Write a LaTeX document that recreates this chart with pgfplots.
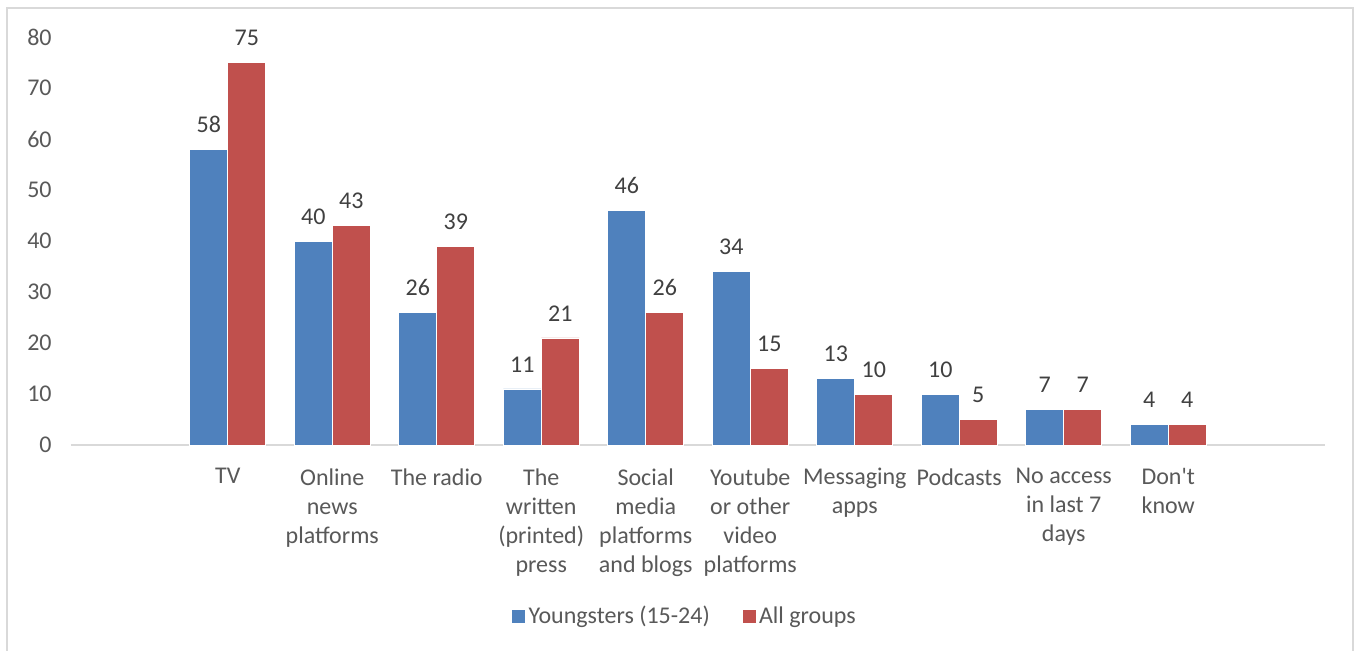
\documentclass[border=0pt]{standalone}
\usepackage{pgfplots}
\pgfplotsset{compat=1.18}
\usepackage{fontspec}
\setmainfont{Carlito}
\definecolor{cblue}{HTML}{4F81BD}
\definecolor{cred}{HTML}{C0504D}
\definecolor{tickgray}{HTML}{595959}
\definecolor{labgray}{HTML}{404040}
\definecolor{framegray}{HTML}{D9D9D9}
\begin{document}
\begin{tikzpicture}
\useasboundingbox (0pt,0pt) rectangle (1017pt,487.5pt);
\fill[white] (0pt,0pt) rectangle (1017pt,487.5pt);
\draw[framegray, line width=1pt] (5.25pt,-10pt) -- (5.25pt,481.5pt) -- (1014.75pt,481.5pt) -- (1014.75pt,-10pt);
\begin{axis}[
  at={(53.25pt,153.75pt)}, anchor=south west,
  scale only axis, width=940.5pt, height=306pt,
  xmin=-1.5, xmax=10.5, ymin=0, ymax=80,
  enlargelimits=false,
  axis x line=bottom, axis y line=left,
  x axis line style={framegray, line width=1.2pt, -},
  y axis line style={draw=none},
  major tick length=0pt,
  ytick={0,10,...,80},
  xtick={0,...,9},
  xticklabels={TV, Online\\news\\platforms, The radio, The\\written\\(printed)\\press, Social\\media\\platforms\\and blogs, Youtube\\or other\\video\\platforms, Messaging\\apps, Podcasts, No access\\in last 7\\days, Don\textquotesingle t\\know},
  /pgf/number format/assume math mode=true,
  yticklabel style={font=\fontsize{18}{21.75}\selectfont, text=tickgray, xshift=-11pt},
  xticklabel style={font=\fontsize{18}{21.75}\selectfont, text=tickgray, align=center, yshift=-14pt},
  ybar=0pt, bar width=28.5pt,
  nodes near coords,
  every node near coord/.append style={font=\fontsize{18}{21.75}\selectfont, text=labgray, yshift=9pt},
  legend style={at={(0.4896,-0.419)}, anchor=center, draw=none, legend columns=2,
    font=\fontsize{18}{21.75}\selectfont, text=tickgray,
    /tikz/every even column/.append style={column sep=22pt}},
  legend image code/.code={\fill[#1] (0pt,-5.25pt) rectangle (10.5pt,5.25pt);},
  clip=false,
]
\addplot[fill=cblue, draw=white, line width=0.4pt] coordinates {(0,58) (1,40) (2,26) (3,11) (4,46) (5,34) (6,13) (7,10) (8,7) (9,4)};
\addplot[fill=cred, draw=white, line width=0.4pt] coordinates {(0,75) (1,43) (2,39) (3,21) (4,26) (5,15) (6,10) (7,5) (8,7) (9,4)};
\legend{Youngsters (15-24), All groups}
\end{axis}
\end{tikzpicture}
\end{document}
